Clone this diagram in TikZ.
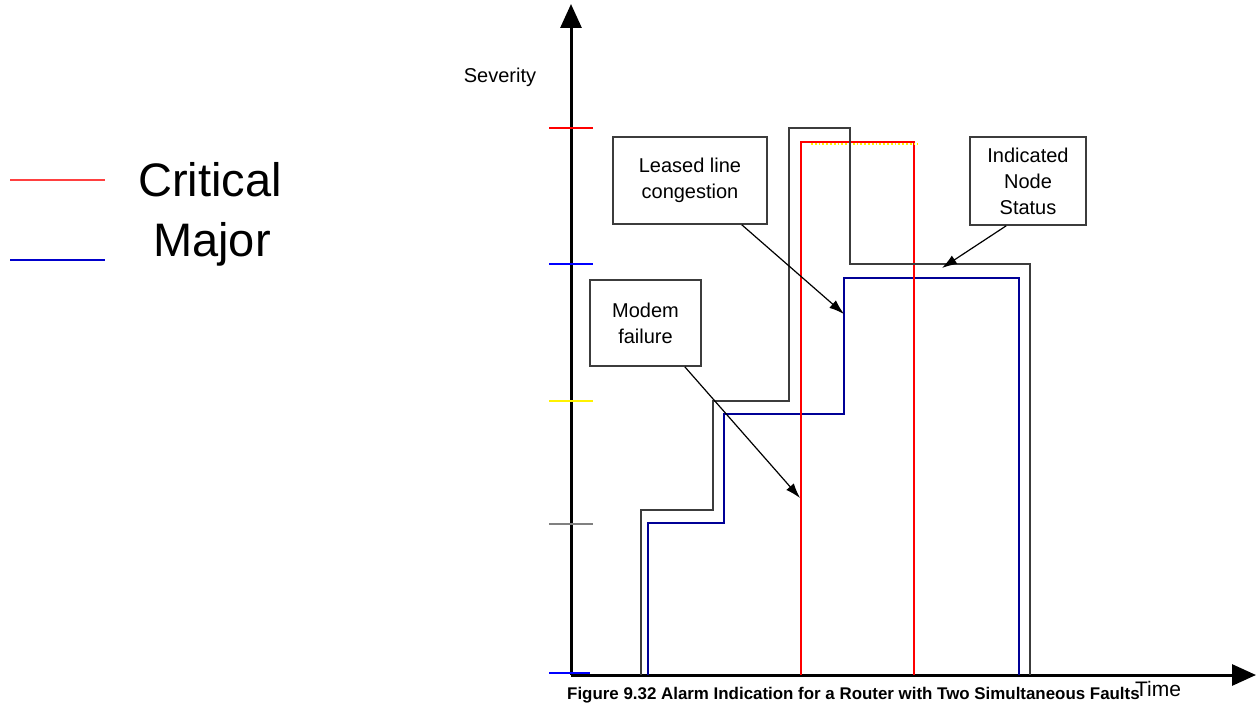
\documentclass[tikz,border=0pt]{standalone}
\usepackage{fontspec}
\setmainfont{Liberation Sans}
\usetikzlibrary{arrows.meta}
\definecolor{navyline}{RGB}{0,0,150}
\definecolor{statusline}{RGB}{60,60,60}
\tikzset{
  callout/.style={draw=statusline, line width=1.6pt, align=center, inner sep=0pt,
    font=\fontsize{20}{26}\selectfont},
  pointer/.style={-{Latex[length=15pt,width=10pt]}, line width=1.2pt},
  axis/.style={line width=3pt, -{Triangle[length=24pt,width=21pt]}}
}
\begin{document}
\begin{tikzpicture}[x=1pt,y=-1pt]
      \useasboundingbox (0,0) rectangle (1258,703);
      % axes
      \coordinate (o) at (571,675);
      \coordinate (ytop) at (571,4);
      \coordinate (xend) at (1256,675);
      \draw[axis] (o) -- (ytop);
      \draw[axis] (o) -- (xend);
      \node (sev) at (500,77) {\fontsize{20}{24}\selectfont Severity};
      \node (time) at (1158,689) {\fontsize{21}{24}\selectfont Time};
      % level ticks
      \begin{scope}[line width=1.2pt]
        \draw[red] (549,128) -- (593,128);
        \draw[blue] (549,264) -- (593,264);
        \draw[yellow] (549,401) -- (593,401);
        \draw[gray] (549,524) -- (593,524);
        \draw[blue] (549,673) -- (590,673);
      \end{scope}
      % alarms
      \draw[navyline, line width=1.6pt]
        (648,675) -- (648,523) -- (724,523) -- (724,414) -- (844,414)
        -- (844,278) -- (1019,278) -- (1019,675);
      \draw[red, line width=1.4pt] (801,675) -- (801,142) -- (914,142) -- (914,675);
      \draw[yellow, line width=1.8pt, dotted] (811,144) -- (918,144);
      \draw[statusline, line width=1.6pt]
        (641,675) -- (641,510) -- (713,510) -- (713,401) -- (789,401)
        -- (789,128) -- (850,128) -- (850,264) -- (1030,264) -- (1030,675);
      % callouts
      \node[callout, minimum width=154pt, minimum height=87pt] (leased) at (690,180.5) {Leased line\\congestion};
      \node[callout, minimum width=111pt, minimum height=86pt] (modem) at (645.5,323) {Modem\\failure};
      \node[callout, minimum width=116pt, minimum height=88pt] (status) at (1028,181) {Indicated\\Node\\Status};
      \coordinate (mtip) at (800,498);
      \coordinate (ltip) at (844,314);
      \coordinate (stip) at (942,268);
      \draw[pointer] ([xshift=-17pt]modem.south east) -- (mtip);
      \draw[pointer] ([xshift=-26pt]leased.south east) -- (ltip);
      \draw[pointer] ([xshift=37pt]status.south west) -- (stip);
      % legend
      \draw[red!75, line width=2pt] (10,180) -- (105,180);
      \draw[blue!80!black, line width=2pt] (10,260) -- (105,260);
      \node (crit) at (210,180) {\fontsize{47}{50}\selectfont Critical};
      \node (major) at (212,244) {\fontsize{47}{50}\selectfont Major};
      % caption
      \node[anchor=west, inner sep=0pt] (cap) at (567,695)
        {\fontsize{16.9}{18}\selectfont\bfseries Figure 9.32 Alarm Indication for a Router with Two Simultaneous Faults};
    \end{tikzpicture}
\end{document}
